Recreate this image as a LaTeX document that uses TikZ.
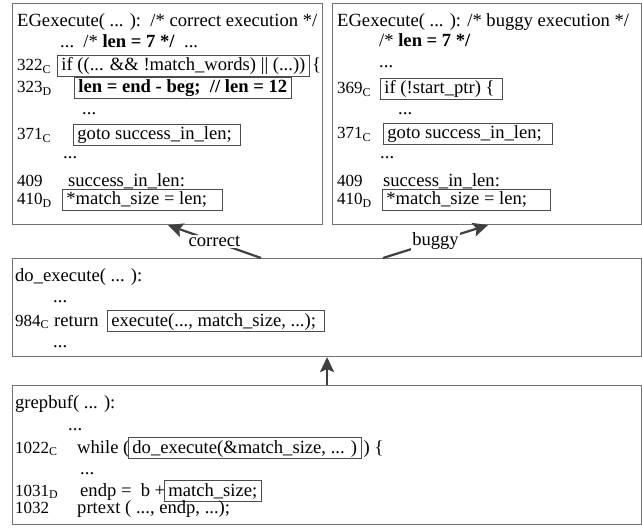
\documentclass[tikz,border=0pt]{standalone}
\usepackage{fontspec}
\setmainfont{Liberation Serif}
\usetikzlibrary{positioning,arrows.meta}

\tikzset{
  codebox/.style={draw=black!55, line width=1.1pt, anchor=north west, inner sep=0pt},
  txt/.style={anchor=base west, inner sep=0pt},
  num/.style={txt, font=\fontsize{17}{20}\selectfont},
  frm/.style={draw=black!70, line width=0.8pt, anchor=base west, inner xsep=4pt, inner ysep=1.5pt, text height=14pt, text depth=3.5pt},
  flow/.style={draw=black!75, line width=2.2pt, -{Stealth[length=15pt,width=14pt,inset=3pt]}},
  lbl/.style={fill=white, inner sep=1.5pt, text=black}
}

\begin{document}
\begin{tikzpicture}[x=1pt, y=-1pt, font=\fontsize{18.6}{21}\selectfont]
\useasboundingbox (0,0) rectangle (642,529);

% the four boxes
\node[codebox, minimum width=310pt, minimum height=221pt] (cbox) at (12,3) {};
\node[codebox, minimum width=309pt, minimum height=221pt] (bbox) at (332,3) {};
\node[codebox, minimum width=629pt, minimum height=98pt] (dbox) at (12,258) {};
\node[codebox, minimum width=629pt, minimum height=139pt] (gbox) at (12,385) {};

% correct execution
\node[txt] (c1) at (17,27) {EGexecute( ... ):\ \ /* correct execution */};
\node[txt] (c2) at (60,48) {...\ \ /* \textbf{len = 7 */}\ \ ...};
\node[num] (c322) at (17,71) {322\textsubscript{C}};
\node[frm] (c322f) at (57,71) {if ((... \&\& !match\_words) || (...))};
\node[txt] (c322e) at ([xshift=2pt]c322f.base east) {\{};
\node[num] (c323) at (17,93) {323\textsubscript{D}};
\node[frm] (c323f) at (74,93) {\textbf{len = end - beg;\ \ // len = 12}};
\node[txt] (c3) at (82,115) {...};
\node[num] (c371) at (17,140) {371\textsubscript{C}};
\node[frm] (c371f) at (73,140) {goto success\_in\_len;\hspace{5pt}\mbox{}};
\node[txt] (c4) at (63,159) {...};
\node[num] (c409) at (17,187) {409};
\node[txt] (c409t) at (68,187) {success\_in\_len:};
\node[num] (c410) at (17,205) {410\textsubscript{D}};
\node[frm] (c410f) at (62,205) {*match\_size = len;\hspace{11pt}\mbox{}};

% buggy execution
\node[txt] (b1) at (337,27) {EGexecute( ... ): /* buggy execution */};
\node[txt] (b2) at (379,47) {/* \textbf{len = 7 */}};
\node[txt] (b3) at (379,68) {...};
\node[num] (b369) at (337,94) {369\textsubscript{C}};
\node[frm] (b369f) at (380,94) {if (!start\_ptr) \{\hspace{4pt}\mbox{}};
\node[txt] (b4) at (398,115) {...};
\node[num] (b371) at (337,139) {371\textsubscript{C}};
\node[frm] (b371f) at (383,139) {goto success\_in\_len;\hspace{7pt}\mbox{}};
\node[txt] (b5) at (380,159) {...};
\node[num] (b409) at (337,187) {409};
\node[txt] (b409t) at (383,187) {success\_in\_len:};
\node[num] (b410) at (337,205) {410\textsubscript{D}};
\node[frm] (b410f) at (382,205) {*match\_size = len;\hspace{19pt}\mbox{}};

% do_execute
\node[txt] (d1) at (15,281) {do\_execute( ... ):};
\node[txt] (d2) at (53,302) {...};
\node[num] (d984) at (15,326) {984\textsubscript{C}};
\node[txt] (d984t) at (54,326) {return};
\node[frm] (d984f) at (107,326) {execute(..., match\_size, ...);\hspace{4pt}\mbox{}};
\node[txt] (d3) at (53,347) {...};

% grepbuf
\node[txt] (g1) at (15,408) {grepbuf( ... ):};
\node[txt] (g2) at (68,430) {...};
\node[num] (g1022) at (15,453) {1022\textsubscript{C}};
\node[txt] (g1022t) at (77,453) {while (};
\node[frm] (g1022f) at (128,453) {do\_execute(\&match\_size, ... )};
\node[txt] (g1022e) at ([xshift=2pt]g1022f.base east) {) \{};
\node[txt] (g3) at (80,474) {...};
\node[num] (g1031) at (15,496) {1031\textsubscript{D}};
\node[txt] (g1031t) at (80,496) {endp =\ \ b +};
\node[frm] (g1031f) at (164,496) {match\_size;};
\node[num] (g1032) at (15,513) {1032};
\node[txt] (g1032t) at (77,513) {prtext ( ..., endp, ...);};

% calls
\draw[flow] ([xshift=249pt]dbox.north west) -- node[lbl] {correct} ([xshift=156pt]cbox.south west);
\draw[flow] ([xshift=371pt]dbox.north west) -- node[lbl] {buggy} ([xshift=156pt]bbox.south west);
\draw[flow] (gbox.north) -- (dbox.south);
\end{tikzpicture}
\end{document}
